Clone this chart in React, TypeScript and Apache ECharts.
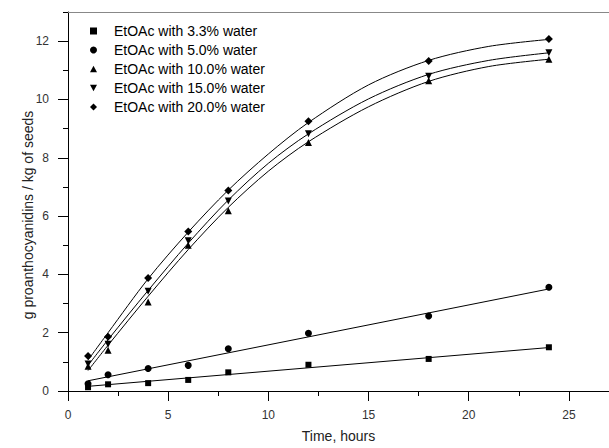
import { useEffect, useRef } from "react";
import * as echarts from "echarts";

// ---- data ----
const hours = [1, 2, 4, 6, 8, 12, 18, 24];
const water33 = [0.13, 0.23, 0.27, 0.38, 0.64, 0.9, 1.1, 1.5];
const water50 = [0.25, 0.56, 0.77, 0.88, 1.45, 1.98, 2.57, 3.56];
const water100 = [0.85, 1.4, 3.05, 5.0, 6.18, 8.52, 10.64, 11.38];
const water150 = [0.93, 1.6, 3.42, 5.15, 6.52, 8.82, 10.8, 11.6];
const water200 = [1.2, 1.86, 3.88, 5.47, 6.88, 9.25, 11.32, 12.07];

// fitted lines
const linFitX = [1, 24];
const fit33 = [0.16, 1.49];
const fit50 = [0.35, 3.5];
const curveFitX = [1, 2, 4, 6, 8, 10, 12, 15, 18, 21, 24];
const fit100 = [0.7, 1.57, 3.25, 4.85, 6.3, 7.54, 8.55, 9.75, 10.62, 11.13, 11.38];
const fit150 = [0.88, 1.76, 3.45, 5.07, 6.55, 7.81, 8.82, 10.02, 10.86, 11.34, 11.6];
const fit200 = [1.06, 2.0, 3.85, 5.45, 6.89, 8.13, 9.21, 10.5, 11.34, 11.82, 12.06];

const seriesNames = [
  "EtOAc with 3.3% water",
  "EtOAc with 5.0% water",
  "EtOAc with 10.0% water",
  "EtOAc with 15.0% water",
  "EtOAc with 20.0% water",
];

const xMajorTicks = [0, 5, 10, 15, 20, 25];
const xMinorTicks = [2.5, 7.5, 12.5, 17.5, 22.5];
const yMajorTicks = [0, 2, 4, 6, 8, 10, 12];
const yMinorTicks = [1, 3, 5, 7, 9, 11, 13];

const FONT = "'Liberation Sans', Arial, Helvetica, sans-serif";

const pair = (xs: number[], ys: number[]) => xs.map((x, i) => [x, ys[i]]);

export default function App() {
  const ref = useRef<HTMLDivElement>(null);

  useEffect(() => {
    if (!ref.current) return;
    const chart = echarts.init(ref.current, null, { renderer: "svg" });

    const markers = [
      { sym: "path://M0,0L10,0L10,10L0,10Z", size: 6 },
      { sym: "circle", size: 7 },
      { sym: "path://M5,0L10,9L0,9Z", size: 7 },
      { sym: "path://M0,0L10,0L5,9Z", size: 7 },
      { sym: "path://M5,0L10,5L5,10L0,5Z", size: 8 },
    ];
    const values = [water33, water50, water100, water150, water200];

    const scatter = seriesNames.map((name, i) => ({
      type: "scatter",
      name,
      xAxisIndex: 0,
      yAxisIndex: 0,
      symbol: markers[i].sym,
      symbolSize: markers[i].size,
      itemStyle: { color: "#000", borderWidth: 0, opacity: 1 },
      data: pair(hours, values[i]),
      z: 3,
    }));

    const fits = [
      pair(linFitX, fit33),
      pair(linFitX, fit50),
      pair(curveFitX, fit100),
      pair(curveFitX, fit150),
      pair(curveFitX, fit200),
    ].map((d, i) => ({
      type: "line",
      name: "fit" + i,
      xAxisIndex: 0,
      yAxisIndex: 0,
      data: d,
      smooth: i >= 2 ? 0.3 : false,
      showSymbol: false,
      symbol: "none",
      lineStyle: { color: "#000", width: 1 },
      itemStyle: { color: "#000" },
      z: 2,
    }));

    const axisCommonX = { type: "value", min: 0, max: 27, splitLine: { show: false } };
    const axisCommonY = { type: "value", min: 0, max: 13, splitLine: { show: false } };

    chart.setOption({
      animation: false,
      backgroundColor: "#fff",
      textStyle: { fontFamily: FONT },
      grid: { left: 68, right: 0, top: 12, bottom: 57, containLabel: false },
      legend: {
        data: seriesNames,
        orient: "vertical",
        left: 85,
        top: 19,
        itemWidth: 7,
        itemHeight: 7,
        itemGap: 5,
        selectedMode: false,
        textStyle: {
          fontFamily: FONT,
          fontSize: 14,
          color: "#000",
          lineHeight: 14,
          padding: [0, 0, 0, 12],
        },
      },
      xAxis: [
        {
          ...axisCommonX,
          position: "bottom",
          axisLine: { show: true, onZero: false, lineStyle: { color: "#000", width: 1 } },
          axisTick: { show: true, inside: false, length: 10, customValues: xMajorTicks, lineStyle: { color: "#000" } },
          axisLabel: { customValues: xMajorTicks, margin: 18, fontSize: 12, color: "#333", fontFamily: FONT },
          name: "Time, hours",
          nameLocation: "middle",
          nameGap: 38,
          nameTextStyle: { fontSize: 14, color: "#222", fontFamily: FONT },
        },
        {
          ...axisCommonX,
          position: "bottom",
          axisLine: { show: false, onZero: false },
          axisTick: { show: true, inside: false, length: 5, customValues: xMinorTicks, lineStyle: { color: "#000" } },
          axisLabel: { show: false },
        },
        {
          ...axisCommonX,
          position: "top",
          axisLine: { show: true, onZero: false, lineStyle: { color: "#888", width: 1 } },
          axisTick: { show: false },
          axisLabel: { show: false },
        },
      ],
      yAxis: [
        {
          ...axisCommonY,
          position: "left",
          axisLine: { show: true, onZero: false, lineStyle: { color: "#000", width: 1 } },
          axisTick: { show: true, inside: false, length: 10, customValues: yMajorTicks, lineStyle: { color: "#000" } },
          axisLabel: { customValues: yMajorTicks, margin: 19, fontSize: 12, color: "#333", fontFamily: FONT },
        },
        {
          ...axisCommonY,
          position: "left",
          axisLine: { show: false, onZero: false },
          axisTick: { show: true, inside: false, length: 5, customValues: yMinorTicks, lineStyle: { color: "#000" } },
          axisLabel: { show: false },
        },
      ],
      graphic: [
        {
          type: "text",
          x: 28,
          y: 215,
          rotation: Math.PI / 2,
          style: {
            text: "g proanthocyanidins / kg of seeds",
            fontFamily: FONT,
            fontSize: 14,
            fill: "#222",
            align: "center",
            verticalAlign: "middle",
          },
        },
      ],
      series: [...fits, ...scatter],
    });

    return () => chart.dispose();
  }, []);

  return (
    <div
      ref={ref}
      style={{ position: "fixed", left: 0, top: 0, width: 609, height: 448 }}
    />
  );
}
